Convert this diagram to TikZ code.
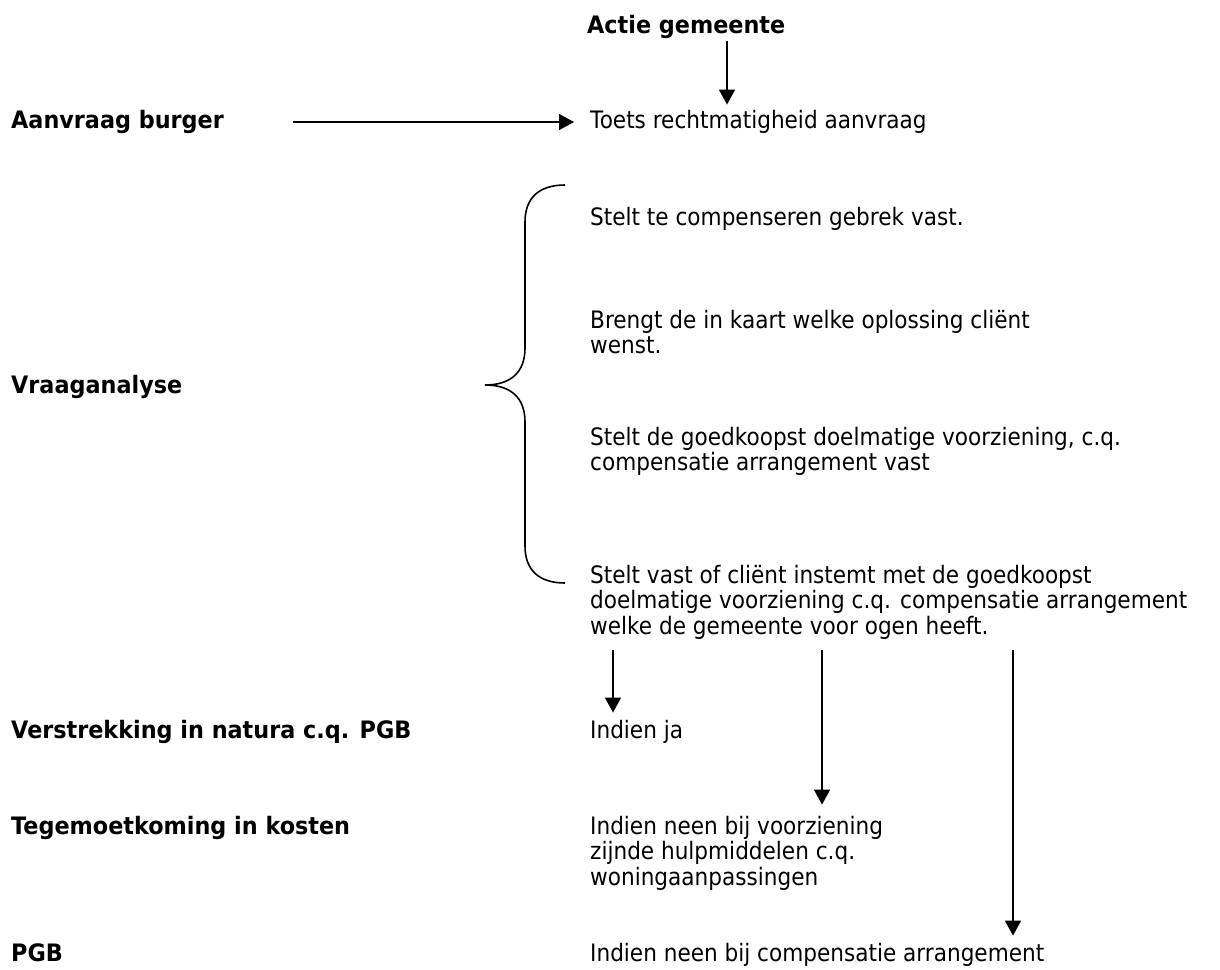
\documentclass[tikz,border=0pt]{standalone}
\usepackage{fontspec}
\setmainfont{DejaVu Sans}
\newfontfamily\regfam{DejaVu Sans}[FakeStretch=0.9]
\newfontfamily\boldfam{DejaVu Sans}[FakeStretch=0.93]
\usetikzlibrary{arrows.meta}
\newcommand{\lines}[1]{\begin{tabular}[t]{@{}l@{}}#1\end{tabular}}
\begin{document}
\begin{tikzpicture}[x=1pt,y=-1pt,
  txt/.style={anchor=base west, inner sep=0pt, font=\regfam\fontsize{24}{25}\selectfont},
  lbl/.style={anchor=base west, inner sep=0pt, font=\boldfam\bfseries\fontsize{24}{25}\selectfont},
  arr/.style={line width=1.6pt, -{Triangle[width=16pt,length=15pt]}},
  bracepath/.style={line width=1.6pt}]
\useasboundingbox[fill=white] (0,0) rectangle (1220,969);

% labels (left column and heading)
\node[lbl] (actie) at (587,33) {Actie gemeente};
\node[lbl] (aanvraag) at (11,128) {Aanvraag burger};
\node[lbl] (vraag) at (11,393) {Vraaganalyse};
\node[lbl] (verstr) at (11,738) {Verstrekking in natura c.q. PGB};
\node[lbl] (tegem) at (11,834) {Tegemoetkoming in kosten};
\node[lbl] (pgb) at (11,961) {PGB};

% right column
\node[txt] (toets) at (590,128) {Toets rechtmatigheid aanvraag};
\node[txt] (s1) at (590,225) {Stelt te compenseren gebrek vast.};
\node[txt] (s2) at (590,328) {\lines{Brengt de in kaart welke oplossing cliënt\\wenst.}};
\node[txt] (s3) at (590,445) {\lines{Stelt de goedkoopst doelmatige voorziening, c.q.\\compensatie arrangement vast}};
\node[txt] (s4) at (590,583) {\lines{Stelt vast of cliënt instemt met de goedkoopst\\doelmatige voorziening c.q. compensatie arrangement\\welke de gemeente voor ogen heeft.}};
\node[txt] (ja) at (590,738) {Indien ja};
\node[txt] (neen1) at (590,834) {\lines{Indien neen bij voorziening\\zijnde hulpmiddelen c.q.\\woningaanpassingen}};
\node[txt] (neen2) at (590,961) {Indien neen bij compensatie arrangement};

% connector anchor points
\coordinate (x1) at (727,0);
\coordinate (a2s) at (293,122);
\coordinate (xa) at (613,0);
\coordinate (xb) at (822,0);
\coordinate (xc) at (1013,0);

\draw[arr, shorten <=3pt, shorten >=5pt] (actie.south -| x1) -- (toets.north -| x1);
\draw[arr, shorten >=16pt] (a2s) -- (toets.west |- a2s);
\draw[arr, shorten <=8pt, shorten >=7pt] (s4.south -| xa) -- (ja.north -| xa);
\draw[arr, shorten <=8pt, shorten >=11pt] (s4.south -| xb) -- (neen1.north -| xb);
\draw[arr, shorten <=8pt, shorten >=7pt] (s4.south -| xc) -- (neen2.north -| xc);

% brace
\draw[bracepath] (565,185) .. controls (540,185) and (525,197) .. (525,222)
  -- (525,348) .. controls (525,373) and (510,385) .. (485,385)
  .. controls (510,385) and (525,397) .. (525,422)
  -- (525,546) .. controls (525,571) and (540,583) .. (565,583);
\end{tikzpicture}
\end{document}
